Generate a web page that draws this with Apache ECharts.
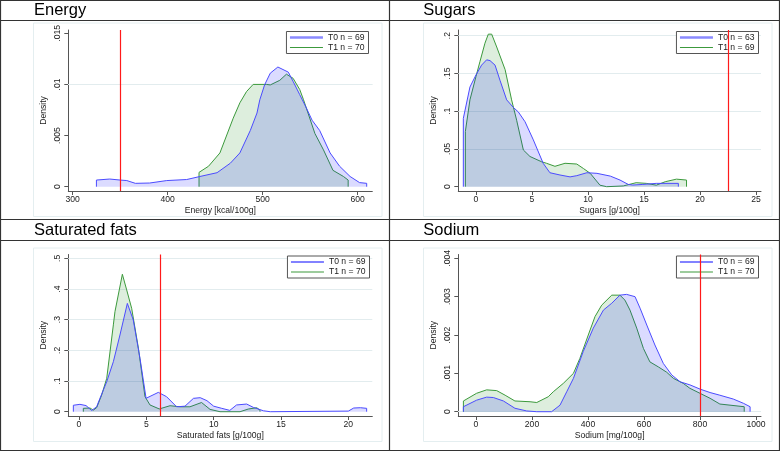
<!DOCTYPE html>
<html><head><meta charset="utf-8">
<script src="https://cdn.jsdelivr.net/npm/echarts@6/dist/echarts.min.js"></script>
<style>html,body{margin:0;padding:0;background:#fff}#c{width:780px;height:451px}</style>
</head><body><div id="c"></div>
<script>
// ---------------- DATA ----------------
const panelTitles = ['Energy', 'Sugars', 'Saturated fats', 'Sodium'];
const xAxisNames = ['Energy [kcal/100g]', 'Sugars [g/100g]', 'Saturated fats [g/100g]', 'Sodium [mg/100g]'];
const legendNames = [
  ['T0 n = 69', 'T1 n = 70'],
  ['T0 n = 63', 'T1 n = 69'],
  ['T0 n = 69', 'T1 n = 70'],
  ['T0 n = 69', 'T1 n = 70']
];
const referenceValues = [350, 22.5, 6, 800];

const energyXTicks = [300, 400, 500, 600];
const energyYTicks = [0, 0.005, 0.01, 0.015];
const sugarsXTicks = [0, 5, 10, 15, 20, 25];
const sugarsYTicks = [0, 0.05, 0.1, 0.15, 0.2];
const satfatXTicks = [0, 5, 10, 15, 20];
const satfatYTicks = [0, 0.1, 0.2, 0.3, 0.4, 0.5];
const sodiumXTicks = [0, 200, 400, 600, 800, 1000];
const sodiumYTicks = [0, 0.001, 0.002, 0.003, 0.004];

// Energy
const energyT0X = [325, 325, 339, 350, 357, 366, 381, 399, 420, 434, 452, 466, 476, 487, 494, 497, 502, 508, 516, 527, 532, 539, 546, 552, 560, 571, 581, 592, 602, 609.5, 609.5];
const energyT0Y = [0, 0.00065, 0.00075, 0.00065, 0.0006, 0.00033, 0.00036, 0.0006, 0.0007, 0.001, 0.00137, 0.0023, 0.0033, 0.0055, 0.0072, 0.0085, 0.00995, 0.0111, 0.0117, 0.0112, 0.0103, 0.009, 0.0077, 0.0065, 0.0055, 0.0033, 0.002, 0.001, 0.0004, 0.00033, 0];
const energyT1X = [433, 433, 443, 455, 469, 476, 483, 490, 504, 508, 518, 525, 532, 539, 543, 555, 564, 574, 585, 590, 590];
const energyT1Y = [0, 0.0014, 0.002, 0.0033, 0.0067, 0.0082, 0.0093, 0.01, 0.01, 0.00995, 0.0104, 0.011, 0.0106, 0.0095, 0.0085, 0.0052, 0.0036, 0.0016, 0.001, 0.00065, 0];

// Sugars
const sugarsT0X = [-1.13, -1.13, -0.54, 0, 0.5, 0.95, 1.25, 1.7, 2.14, 2.74, 3.33, 3.78, 4.38, 5.12, 6.0, 6.6, 7.5, 8.4, 9.0, 9.9, 10.8, 12.0, 12.86, 13.6, 14.0, 14.9, 16.1, 18.07, 18.07];
const sugarsT0Y = [0, 0.0905, 0.132, 0.148, 0.161, 0.168, 0.167, 0.161, 0.141, 0.115, 0.105, 0.099, 0.086, 0.062, 0.031, 0.0185, 0.0155, 0.013, 0.0146, 0.0185, 0.0177, 0.014, 0.0088, 0.003, 0.0022, 0.003, 0.0044, 0.0044, 0];
const sugarsT1X = [-0.95, -0.95, -0.54, 0, 0.36, 0.8, 1.1, 1.4, 1.85, 2.6, 3.18, 3.63, 4.23, 4.82, 5.86, 6.3, 7.05, 7.95, 9.0, 9.6, 10.2, 11.07, 11.67, 13.15, 14.3, 15.2, 16.1, 16.9, 17.9, 18.8, 18.8];
const sugarsT1Y = [0, 0.073, 0.115, 0.146, 0.166, 0.19, 0.202, 0.202, 0.185, 0.155, 0.115, 0.088, 0.0486, 0.04, 0.033, 0.031, 0.027, 0.031, 0.030, 0.024, 0.0177, 0.002, 0, 0.001, 0.0053, 0.0044, 0.002, 0.0066, 0.01, 0.0088, 0];

// Saturated fats
const satfatT0X = [-0.42, -0.42, 0.07, 0.52, 0.94, 1.31, 1.56, 2.06, 2.55, 3.04, 3.59, 4.03, 4.53, 4.98, 5.89, 6.5, 7.25, 7.87, 8.5, 9.0, 9.5, 10.0, 10.6, 11.2, 11.7, 12.45, 12.95, 13.7, 14.2, 20.0, 20.4, 20.9, 21.36, 21.36];
const satfatT0Y = [0, 0.021, 0.024, 0.02, 0.004, 0.016, 0.044, 0.098, 0.163, 0.25, 0.353, 0.299, 0.174, 0.0437, 0.063, 0.049, 0.016, 0.018, 0.0435, 0.0457, 0.036, 0.018, 0.011, 0.0043, 0.022, 0.025, 0.014, 0.003, 0, 0.002, 0.012, 0.013, 0.011, 0];
const satfatT1X = [0.32, 0.32, 0.82, 1.06, 1.31, 1.68, 2.06, 2.55, 2.67, 3.22, 3.54, 3.91, 4.41, 4.9, 5.27, 5.96, 6.76, 7.5, 8.24, 9.1, 9.73, 10.47, 11.96, 12.57, 13.2, 13.44, 13.44];
const satfatT1Y = [0, 0.011, 0.012, 0.005, 0.013, 0.054, 0.109, 0.283, 0.326, 0.448, 0.397, 0.337, 0.207, 0.049, 0.022, 0.009, 0.0195, 0.016, 0.016, 0.03, 0.0076, 0, 0, 0.0087, 0.013, 0.005, 0];

// Sodium
const sodiumT0X = [-45, -45, 2, 38, 62, 98, 139, 181, 217, 270, 300, 324, 348, 383, 419, 455, 485, 514, 538, 568, 586, 610, 639, 669, 699, 729, 764, 800, 836, 871, 919, 955, 979, 979];
const sodiumT0Y = [0, 0.00013, 0.0003, 0.00038, 0.00037, 0.00028, 0.00009, 0.00002, 0, 0, 0.00017, 0.00052, 0.00087, 0.00157, 0.00218, 0.00265, 0.00283, 0.00304, 0.00306, 0.003, 0.0027, 0.00226, 0.00174, 0.00126, 0.00096, 0.00078, 0.0007, 0.00059, 0.0005, 0.00043, 0.00033, 0.00022, 0.00013, 0];
const sodiumT1X = [-45, -45, 2, 38, 74, 104, 139, 193, 217, 258, 276, 312, 348, 371, 401, 425, 449, 485, 514, 532, 550, 574, 598, 621, 651, 681, 705, 740, 764, 800, 836, 871, 958, 958];
const sodiumT1Y = [0, 0.00028, 0.00048, 0.00057, 0.00055, 0.00043, 0.00028, 0.00026, 0.00024, 0.00039, 0.00052, 0.00074, 0.001, 0.00139, 0.002, 0.00248, 0.00278, 0.00304, 0.00304, 0.00291, 0.00265, 0.00218, 0.00165, 0.0013, 0.00117, 0.00103, 0.00087, 0.00074, 0.00061, 0.00048, 0.00035, 0.0002, 0.00013, 0];

// ---------------- STYLE / LAYOUT ----------------
const FONT = '"Liberation Sans", Arial, Helvetica, sans-serif';
const AXIS_COLOR = '#555';
const TEXT_COLOR = '#222';
const BLUE_LINE = '#4b4bff';
const GREEN_LINE = '#3c9a3c';
const BLUE_FILL = 'rgba(0,0,255,0.2)';
const GREEN_FILL = 'rgba(0,128,0,0.19)';
const GRIDLINE = '#e2ecee';

const panels = [
  { grid: {left: 68.3, right: 407.7, top: 30, bottom: 260}, xMin: 295.4, xMax: 615.4, yMin: -0.00042, yMax: 0.01532,
    xTicks: energyXTicks, yTicks: energyYTicks, t0: [energyT0X, energyT0Y], t1: [energyT1X, energyT1Y],
    legend: {right: 411.5, top: 31.5}, title: {left: 34, top: 2}, legendThick: true },
  { grid: {left: 458.3, right: 19, top: 30, bottom: 260}, xMin: -1.58, xMax: 25.45, yMin: -0.0057, yMax: 0.2075,
    xTicks: sugarsXTicks, yTicks: sugarsYTicks, t0: [sugarsT0X, sugarsT0Y], t1: [sugarsT1X, sugarsT1Y],
    legend: {right: 21.5, top: 31.5}, title: {left: 423.3, top: 2}, legendThick: true },
  { grid: {left: 68.3, right: 407.7, top: 254.5, bottom: 35}, xMin: -0.795, xMax: 21.78, yMin: -0.014, yMax: 0.5124,
    xTicks: satfatXTicks, yTicks: satfatYTicks, t0: [satfatT0X, satfatT0Y], t1: [satfatT1X, satfatT1Y],
    legend: {right: 410.5, top: 256}, title: {left: 34, top: 222}, legendThick: false },
  { grid: {left: 458.3, right: 19, top: 254.5, bottom: 35}, xMin: -63.2, xMax: 1017.9, yMin: -0.000112, yMax: 0.0041,
    xTicks: sodiumXTicks, yTicks: sodiumYTicks, t0: [sodiumT0X, sodiumT0Y], t1: [sodiumT1X, sodiumT1Y],
    legend: {right: 21.5, top: 256}, title: {left: 423.3, top: 222}, legendThick: false }
];

function zip(xs, ys) { return xs.map((x, i) => [x, ys[i]]); }
function yFmt(v) { return v === 0 ? '0' : String(v).replace(/^0\./, '.').replace(/^-0\./, '-.'); }
function xFmt(v) { return String(v); }

const labelText = {fontSize: 8.6, color: TEXT_COLOR, fontFamily: FONT};

const grids = [], xAxes = [], yAxes = [], series = [], legends = [], titles = [];
panels.forEach((p, i) => {
  grids.push(Object.assign({containLabel: false}, p.grid));
  xAxes.push({
    type: 'value', gridIndex: i, min: p.xMin, max: p.xMax,
    axisLine: {show: true, onZero: false, lineStyle: {color: AXIS_COLOR, width: 1}},
    axisTick: {show: true, length: 4, customValues: p.xTicks, lineStyle: {color: AXIS_COLOR, width: 1}},
    axisLabel: Object.assign({customValues: p.xTicks, margin: 4, formatter: xFmt}, labelText),
    splitLine: {show: false},
    name: xAxisNames[i], nameLocation: 'middle', nameGap: 15,
    nameTextStyle: Object.assign({}, labelText)
  });
  yAxes.push({
    type: 'value', gridIndex: i, min: p.yMin, max: p.yMax,
    axisLine: {show: true, onZero: false, lineStyle: {color: AXIS_COLOR, width: 1}},
    axisTick: {show: true, length: 4, customValues: p.yTicks, lineStyle: {color: AXIS_COLOR, width: 1}},
    axisLabel: Object.assign({customValues: p.yTicks, margin: 6, rotate: 90, formatter: yFmt}, labelText),
    splitLine: {show: false},
    name: 'Density', nameLocation: 'middle', nameGap: 20, nameRotate: 90,
    nameTextStyle: Object.assign({}, labelText)
  });
  // T1 (green) drawn first, T0 (blue) on top
  series.push({
    type: 'line', name: legendNames[i][1], xAxisIndex: i, yAxisIndex: i,
    data: zip(p.t1[0], p.t1[1]), symbol: 'none', smooth: false, animation: false, silent: true,
    lineStyle: {color: GREEN_LINE, width: 1}, itemStyle: {color: GREEN_LINE},
    areaStyle: {color: GREEN_FILL, origin: 'auto'}, z: 2,
    markLine: {
      silent: true, symbol: 'none', animation: false, z: 1,
      label: {show: false},
      lineStyle: {color: GRIDLINE, width: 1, type: 'solid'},
      data: p.yTicks.filter(v => v !== 0).map(v => ({yAxis: v}))
    }
  });
  series.push({
    type: 'line', name: legendNames[i][0], xAxisIndex: i, yAxisIndex: i,
    data: zip(p.t0[0], p.t0[1]), symbol: 'none', smooth: false, animation: false, silent: true,
    lineStyle: {color: BLUE_LINE, width: 1}, itemStyle: {color: BLUE_LINE},
    areaStyle: {color: BLUE_FILL, origin: 'auto'}, z: 3,
    markLine: {
      silent: true, symbol: 'none', animation: false, z: 6,
      label: {show: false},
      lineStyle: {color: '#ff1a1a', width: 1.2, type: 'solid'},
      data: [{xAxis: referenceValues[i]}]
    }
  });
  const thickIcon = 'path://M0,0h0.01v0.01h-0.01z M0,3.8h33v2.4h-33z M32.99,9.99h0.01v0.01h-0.01z';
  const midIcon = 'path://M0,0h0.01v0.01h-0.01z M0,4.3h33v1.4h-33z M32.99,9.99h0.01v0.01h-0.01z';
  const thinIcon = 'path://M0,0h0.01v0.01h-0.01z M0,4.5h33v1h-33z M32.99,9.99h0.01v0.01h-0.01z';
  legends.push({
    orient: 'vertical', right: p.legend.right, top: p.legend.top,
    itemWidth: 33, itemHeight: 10, itemGap: 0, padding: [1, 4, 1, 3.5],
    backgroundColor: '#fff', borderColor: '#555', borderWidth: 1, borderRadius: 0,
    selectedMode: false, animation: false,
    textStyle: Object.assign({}, labelText),
    data: [
      {name: legendNames[i][0], icon: p.legendThick ? thickIcon : midIcon,
       itemStyle: {color: p.legendThick ? '#8a8aff' : '#5a5aff'}},
      {name: legendNames[i][1], icon: thinIcon, itemStyle: {color: GREEN_LINE}}
    ]
  });
  titles.push({
    text: panelTitles[i], left: p.title.left, top: p.title.top, padding: 0,
    textStyle: {fontSize: 16.5, fontWeight: 'normal', color: '#000', fontFamily: FONT}
  });
});

const plotRegions = [
  {x: 33, y: 22.5, w: 348.5, h: 193.5},
  {x: 423, y: 22.5, w: 348.5, h: 193.5},
  {x: 33, y: 247.5, w: 348.5, h: 193.5},
  {x: 423, y: 247.5, w: 348.5, h: 193.5}
];

const graphics = [];
plotRegions.forEach(r => graphics.push({
  type: 'rect', z: -10, silent: true,
  shape: {x: r.x + 0.5, y: r.y + 0.5, width: r.w, height: r.h},
  style: {fill: 'none', stroke: '#e4eef0', lineWidth: 1}
}));
const BORDER = '#333';
graphics.push({type: 'rect', z: 100, silent: true, shape: {x: 0.5, y: 0.5, width: 779, height: 450}, style: {fill: 'none', stroke: BORDER, lineWidth: 1.2}});
graphics.push({type: 'line', z: 100, silent: true, shape: {x1: 389.5, y1: 0, x2: 389.5, y2: 451}, style: {stroke: BORDER, lineWidth: 1.2}});
graphics.push({type: 'line', z: 100, silent: true, shape: {x1: 0, y1: 219.5, x2: 780, y2: 219.5}, style: {stroke: BORDER, lineWidth: 1.2}});
graphics.push({type: 'line', z: 100, silent: true, shape: {x1: 0, y1: 20.5, x2: 780, y2: 20.5}, style: {stroke: BORDER, lineWidth: 1.2}});
graphics.push({type: 'line', z: 100, silent: true, shape: {x1: 0, y1: 240.5, x2: 780, y2: 240.5}, style: {stroke: BORDER, lineWidth: 1.2}});

const chart = echarts.init(document.getElementById('c'), null, {renderer: 'canvas'});
chart.setOption({
  animation: false,
  backgroundColor: '#fff',
  title: titles,
  grid: grids,
  xAxis: xAxes,
  yAxis: yAxes,
  legend: legends,
  series: series,
  graphic: graphics
});
</script>
</body></html>
